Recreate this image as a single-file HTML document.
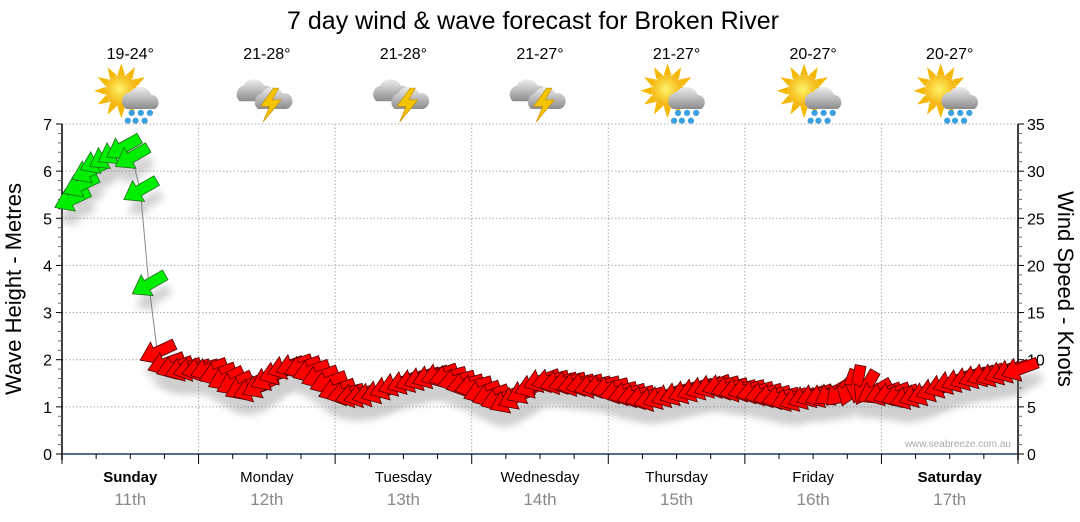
<!DOCTYPE html>
<html><head><meta charset="utf-8">
<style>
body{margin:0;background:#fff;}
svg{display:block;font-family:"Liberation Sans",sans-serif;}
</style></head>
<body>
<svg id="chart" width="1080" height="522" viewBox="0 0 1080 522">
<defs>
<filter id="sh" x="-50%" y="-50%" width="200%" height="250%"><feGaussianBlur stdDeviation="4"/></filter>
<radialGradient id="sun" cx="0.45" cy="0.45" r="0.6"><stop offset="0" stop-color="#fff36a"/><stop offset="1" stop-color="#f2a800"/></radialGradient>
<linearGradient id="cloud" x1="0" y1="0" x2="0" y2="1"><stop offset="0" stop-color="#eeeeee"/><stop offset="1" stop-color="#8c8c8c"/></linearGradient>
</defs>
<text x="533" y="29" text-anchor="middle" font-size="25" fill="#000">7 day wind &amp; wave forecast for Broken River</text>
<g id="grid"></g>
<g id="axes"></g>
<g id="header"></g>
<g id="series"></g>
<text x="1011" y="447" text-anchor="end" font-size="10" fill="#aaa">www.seabreeze.com.au</text>
<text transform="translate(21,289) rotate(-90)" text-anchor="middle" font-size="22" fill="#000">Wave Height - Metres</text>
<text transform="translate(1058,289) rotate(90)" text-anchor="middle" font-size="22" fill="#000">Wind Speed - Knots</text>
</svg>
<script>
const days = ["Sunday","Monday","Tuesday","Wednesday","Thursday","Friday","Saturday"];
const dates = ["11th","12th","13th","14th","15th","16th","17th"];
const boldDays = [true,false,false,false,false,false,true];
const temps = ["19-24°","21-28°","21-28°","21-27°","21-27°","20-27°","20-27°"];
const icons = ["sunrain","storm","storm","storm","sunrain","sunrain","sunrain"];
const waveTicks = [0,1,2,3,4,5,6,7];
const windTicks = [0,5,10,15,20,25,30,35];
// wind speed (knots), 16 readings per day (every 1.5h)
const windSpeed = [
 27,28.5,30,31,31.5,32,32.5,31.5,28,18,10.8,9.6,9.2,9,9,9,
 9,8.5,8,7.5,7,6.8,7.2,8,8.6,9.2,9.4,9.2,8.8,8.2,7.6,6.8,
 6.4,6.2,6.2,6.3,6.6,7,7.4,7.6,7.8,8,8.2,8.4,8.2,7.8,7.4,7.2,
 6.6,6.2,5.8,5.6,6,6.6,7.2,7.8,7.8,7.6,7.6,7.4,7.4,7.2,7.2,7,
 6.6,6.4,6.2,6,5.8,6,6.2,6.4,6.6,6.8,7,7.2,7.2,7,6.8,6.8,
 6.6,6.4,6.2,6,5.8,5.8,6,6.2,6.2,6.4,6.6,7,7.4,7,6.6,6.4,
 6.4,6.2,6,6.2,6.4,6.8,7.2,7.6,7.8,8,8.2,8.4,8.4,8.6,8.8,9
];
// arrow rotation in degrees (negative = tip points down-left)
const windDir = [
 -25,-25,-25,-25,-30,-30,-30,-30,-30,-30,-25,-20,-20,-20,-15,-15,
 -20,-20,-25,-25,-25,-20,-25,-25,-20,-20,-20,-20,-20,-20,-20,-20,
 -15,-15,-15,-15,-20,-20,-20,-20,-20,-20,-20,-20,-15,-15,-15,-15,
 -20,-20,-20,-25,-25,-25,-20,-20,-15,-15,-15,-15,-15,-15,-15,-15,
 -15,-15,-15,-15,-15,-20,-20,-20,-20,-20,-20,-20,-15,-15,-15,-15,
 -15,-15,-15,-15,-20,-20,-20,-20,-20,-30,-45,-70,-80,-60,-30,-20,
 -20,-20,-20,-20,-20,-20,-20,-20,-20,-20,-20,-20,-20,-20,-20,-20
];
const greenCount = 10;

const NS="http://www.w3.org/2000/svg";
const L=62,R=1018,T=124,B=454;
const dayW=(R-L)/7;
function xPos(i){return L+10+i*(R-L)/windSpeed.length;}
function yWind(v){return B-v*(B-T)/35;}
function yWave(v){return B-v*(B-T)/7;}
function mk(tag,attrs,parent){const e=document.createElementNS(NS,tag);for(const k in attrs)e.setAttribute(k,attrs[k]);parent.appendChild(e);return e;}
const grid=document.getElementById('grid'),axes=document.getElementById('axes'),header=document.getElementById('header'),series=document.getElementById('series');

for(const v of waveTicks){ if(v===0)continue;
 const g=mk('line',{x1:L,x2:R,y1:yWave(v),y2:yWave(v),stroke:'#aaa','stroke-dasharray':'1.5,2'},grid);
 
 
}
for(let d=1;d<7;d++){
 const g=mk('line',{x1:L+d*dayW,x2:L+d*dayW,y1:T,y2:B,stroke:'#aaa','stroke-dasharray':'1.5,2'},grid);
 
 
}
mk('line',{x1:L,x2:L,y1:T,y2:B+6,stroke:'#000','stroke-width':1.5},axes);
mk('line',{x1:R,x2:R,y1:T,y2:B+6,stroke:'#000','stroke-width':1.5},axes);
mk('line',{x1:L,x2:R,y1:B,y2:B,stroke:'#1f3f5f','stroke-width':1.5},axes);
for(let v=0;v<=7.001;v+=0.2){const y=yWave(v);const major=Math.abs(v-Math.round(v))<0.01;
 mk('line',{x1:major?L-6:L-4,x2:L,y1:y,y2:y,stroke:major?'#000':'#666'},axes);}
for(let v=0;v<=35;v++){const y=yWind(v);const major=v%5===0;
 mk('line',{x1:R,x2:major?R+6:R+4,y1:y,y2:y,stroke:major?'#000':'#666'},axes);}
for(const v of waveTicks){const t=mk('text',{x:L-10,y:yWave(v)+6,'text-anchor':'end','font-size':16,fill:'#000'},axes);t.textContent=v;
 
 }
for(const v of windTicks){const t=mk('text',{x:R+9,y:yWind(v)+6,'font-size':16,fill:'#000'},axes);t.textContent=v;
 
 }
for(let k=0;k<=28;k++){const x=L+k*dayW/4;const major=k%4===0;
 mk('line',{x1:x,x2:x,y1:B,y2:B+(major?10:5),stroke:'#000'},axes);}
days.forEach((d,i)=>{const cx=L+(i+0.5)*dayW;
 const t=mk('text',{x:cx,y:482,'text-anchor':'middle','font-size':15,fill:'#000','font-weight':boldDays[i]?'bold':'normal'},axes);t.textContent=d;
 
 
 const t2=mk('text',{x:cx,y:505,'text-anchor':'middle','font-size':17,fill:'#888'},axes);t2.textContent=dates[i];
 
 
 const t3=mk('text',{x:cx,y:59,'text-anchor':'middle','font-size':16,fill:'#000'},header);t3.textContent=temps[i];
 
 
 const g=mk('g',{transform:`translate(${cx+4},96) scale(1.3)`},header);
 
 
 if(icons[i]==='sunrain'){
  for(let a=0;a<12;a++){mk('polygon',{points:'-3,-12 3,-12 0,-21',fill:'#f5b800',transform:`translate(-10,-4) rotate(${a*30})`},g);}
  mk('circle',{cx:-10,cy:-4,r:12,fill:'url(#sun)'},g);
  mk('path',{d:'M-6,10 a7,7 0 0 1 3,-13 a9,9 0 0 1 16,2 a6,6 0 0 1 3,11 z',fill:'url(#cloud)'},g);
  [[-2,13],[5,13],[12,13],[1,19],[8,19],[-5,19]].forEach(p=>mk('circle',{cx:p[0],cy:p[1],r:2.4,fill:'#3aa0e0'},g));
 } else {
  mk('path',{d:'M-24,4 a7,7 0 0 1 3,-12 a9,9 0 0 1 16,0 a6,6 0 0 1 2,12 z',fill:'url(#cloud)'},g);
  mk('path',{d:'M-10,10 a7,7 0 0 1 3,-12 a9,9 0 0 1 16,0 a6,6 0 0 1 3,12 z',fill:'url(#cloud)'},g);
  mk('polygon',{points:'2,-6 -8,8 -1,8 -6,20 8,3 1,3 6,-6',fill:'#f5c400',stroke:'#c89000','stroke-width':0.5},g);
 }
});
let d='';windSpeed.forEach((v,i)=>{d+=(i?'L':'M')+xPos(i)+','+yWind(v);});
const ln=mk('path',{d:d,fill:'none',stroke:'#888','stroke-width':1},series);


const arrowPath='M-19,0 L-2,-12 L-2,-5.5 L19,-5.5 L19,5.5 L-2,5.5 L-2,12 Z';
const shG=mk('g',{opacity:0.35},series);
windSpeed.forEach((v,i)=>{mk('path',{d:arrowPath,fill:'#777',filter:'url(#sh)',transform:`translate(${xPos(i)+4},${yWind(v)+14}) rotate(${windDir[i]})`},shG);});
windSpeed.forEach((v,i)=>{
 const green=i<greenCount;
 const a=mk('path',{d:arrowPath,fill:green?'#00ee00':'#ff0000',stroke:green?'#207020':'#500000','stroke-width':0.8,transform:`translate(${xPos(i)},${yWind(v)}) rotate(${windDir[i]})`},series);
 
 
});
</script>
</body></html>
